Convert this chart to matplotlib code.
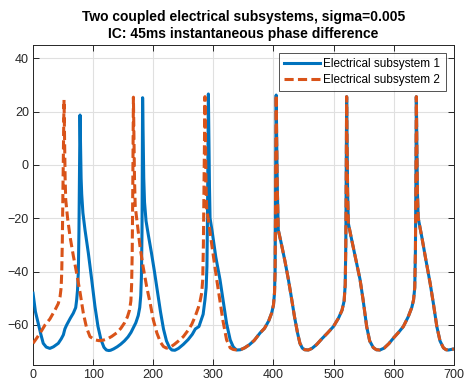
import matplotlib
matplotlib.use("Agg")
import matplotlib.pyplot as plt

plt.rcParams['font.family'] = ['Liberation Sans', 'DejaVu Sans']

# Electrical subsystem 1 (before synchronisation)
t1 = [0, 4, 9, 13, 17, 22, 28, 34, 42, 47, 50.5, 53, 56, 62, 67, 71, 72.6, 74, 75.4, 76.4, 77.3, 78.2,
      79.0, 80.0, 81, 83, 86.5, 92, 97.6, 103, 108, 113, 118, 122, 126, 129, 134, 140, 146, 152, 158,
      163, 167, 171, 175, 177.5, 179.2, 180.3, 181.3, 182.3, 183.1, 184.2, 185.5, 188, 192, 197, 202,
      207, 212, 217, 222, 227, 231, 236, 242, 250, 258, 265, 270, 276, 283, 286, 288, 289.3, 290.2,
      291.0, 291.7, 292.5, 293.5, 294.5, 298, 304, 311, 317, 322, 328, 333, 336]
v1 = [-48.1, -55, -59.8, -63.5, -66.9, -68.3, -68.8, -68.2, -66.9, -65.2, -63.7, -61.5, -60, -57.5,
      -55.6, -53.5, -50.6, -47, -40, -25, -5, 18.7,
      8, -5, -11, -18, -24.4, -33, -43, -53, -60.5, -65.5, -68.4, -69.4, -69.6, -69.5, -69.0, -68.2,
      -67.2, -66.0, -64.5, -62.8, -61.0, -59.2, -56.5, -53.5, -49, -42, -25, 25.2, 12, -5, -14, -21,
      -26.5, -33, -40, -47.5, -55, -61.5, -66, -68.5, -69.4, -69.5, -68.8, -67.3, -65.5, -63.5, -61.5,
      -60.6, -56, -50.6, -46, -38, -20, 5, 26.6, 12, -8, -20, -25, -34.5, -43, -52, -59.5, -65.6, -68.2,
      -68.9]

# Electrical subsystem 2 (before synchronisation)
t2 = [0, 6, 12, 20, 28, 36.6, 42, 45, 46.8, 47.8, 48.8, 49.8, 50.7, 51.6, 52.4, 53.4, 54.4, 57.5,
      61.6, 67, 72.6, 78, 83.7, 89, 94.8, 103, 110, 117, 124, 131, 139, 146, 152, 157, 160.5, 162.8,
      164.0, 165.0, 165.9, 167.0, 167.8, 168.8, 170, 174, 178, 183, 189, 195, 200, 206, 212, 217, 222,
      228, 235, 242, 250, 258, 264, 269.6, 275, 278, 280.6, 282.3, 283.4, 284.4, 285.2, 286, 286.8,
      287.8, 289, 291.7, 298, 305.6, 311, 316, 322, 328, 333, 336]
v2 = [-66.9, -65, -63, -60, -57.8, -54.4, -52, -49.4, -46, -40, -28, -8, 10, 24.4, 10, -5, -13, -20,
      -26.9, -34, -40.6, -47.5, -55.6, -61, -64.4, -65.6, -65.9, -65.7, -65.2, -64.3, -63.0, -61.3,
      -59.3, -57.0, -54.5, -51, -45, -33, -10, 25.4, 12, -5, -15.5, -23, -30.6, -38, -45.6, -52, -58,
      -63, -66.5, -68.1, -68.7, -68.4, -67.3, -66, -64.4, -62, -59.8, -56.9, -53.5, -51, -48, -43, -30,
      -8, 12, 25.6, 10, -8, -17, -20.6, -31, -43, -51, -58.5, -65.6, -68.6, -69.2, -69.3]

# Synchronised part (both subsystems)
ts = [339, 345, 352, 360, 368, 377.7, 385, 392, 397, 400, 401.7, 402.7, 403.3, 403.8, 404.5, 405.3,
      406.5, 408, 413, 419, 424.8, 430, 435, 440, 444, 448, 452, 458, 464, 472, 480, 490, 499.7, 508,
      514, 517.5, 519.3, 520.3, 521.0, 521.7, 522.4, 523.3, 524.6, 530, 537, 544, 549, 555, 560, 566,
      571, 577, 584, 592, 600, 608, 616, 624, 630, 633, 635, 636.1, 636.9, 637.6, 638.4, 639.4, 640.8,
      646.7, 653, 660.6, 666, 671.7, 677, 682.7, 687, 691, 696, 700]
vs = [-69.4, -69.3, -68.6, -67.4, -65.8, -63, -61.3, -58.5, -55.5, -52.5, -48, -40, -20, 5, 26.2, 10,
      -10, -24.4, -29.5, -36, -43, -50, -57, -63, -66.9, -68.7, -69.3, -69.4, -68.8, -67.3, -65.3, -63,
      -60.6, -57.5, -54.5, -51, -45, -30, -5, 25.6, 10, -10, -22, -28, -35.5, -43, -50.5, -60.6, -66,
      -68.5, -69.3, -69.4, -68.7, -67, -64.8, -62.8, -60.6, -57, -53.5, -50.6, -46, -32, -5, 25.6, 10,
      -10, -20, -27, -35, -44.4, -52, -60.6, -66, -68.6, -69.3, -69.4, -69.2, -69]

xticks = [0, 100, 200, 300, 400, 500, 600, 700]
yticks = [-60, -40, -20, 0, 20, 40]
labels = ['Electrical subsystem 1', 'Electrical subsystem 2']
title = 'Two coupled electrical subsystems, sigma=0.005\nIC: 45ms instantaneous phase difference'

blue = '#0072BD'
orange = '#D95319'

fig = plt.figure(figsize=(4.65, 3.87), dpi=100)
ax = fig.add_axes([0.071, 0.057, 0.905, 0.827])

ax.plot(t1 + ts, v1 + vs, color=blue, lw=2.2, label=labels[0], zorder=3)
ax.plot(t2 + ts, v2 + vs, color=orange, lw=2.2, ls='--', dashes=(3.0, 1.4), label=labels[1], zorder=4)

ax.set_xlim(0, 700)
ax.set_ylim(-75, 45)
ax.set_xticks(xticks)
ax.set_yticks(yticks)
ax.grid(True, color='#E0E0E0', lw=0.8)
ax.set_axisbelow(True)
ax.tick_params(direction='in', top=True, right=True, length=4, width=0.7,
               labelsize=9, colors='#262626', labelcolor='#262626', pad=3)
for s in ax.spines.values():
    s.set_color('#262626')
    s.set_linewidth(0.7)

ax.set_title(title, fontsize=10, fontweight='bold', color='black', pad=5, linespacing=1.3)

leg = ax.legend(loc='upper right', fontsize=8.5, frameon=True, fancybox=False, edgecolor='#262626',
                handlelength=3.0, borderpad=0.45, labelspacing=0.3, handletextpad=0.3,
                borderaxespad=0.7)
leg.get_frame().set_linewidth(0.7)

fig.savefig('out.png', dpi=100)
